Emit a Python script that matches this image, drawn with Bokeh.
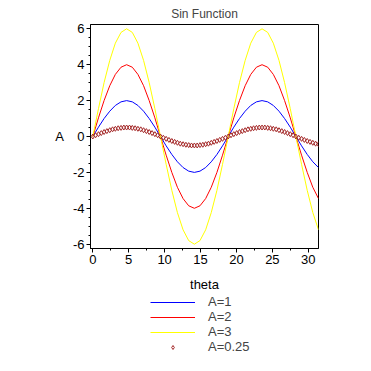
from bokeh.plotting import figure
from bokeh.layouts import column
from bokeh.models import Range1d, Legend, LegendItem, SingleIntervalTicker, CustomJSTickFormatter
from bokeh.embed import file_html
from bokeh.resources import INLINE

# theta samples for the solid curves
theta = [0, 0.79, 1.57, 2.36, 3.14, 3.93, 4.71, 5.5, 6.28, 7.07, 7.85, 8.64, 9.42,
         10.21, 11.0, 11.78, 12.57, 13.35, 14.14, 14.92, 15.71, 16.49, 17.28, 18.06,
         18.85, 19.63, 20.42, 21.21, 21.99, 22.78, 23.56, 24.35, 25.13, 25.92, 26.7,
         27.49, 28.27, 29.06, 29.85, 30.63, 31.42]

y_a1 = [0, 0.52, 1.0, 1.41, 1.73, 1.93, 2.0, 1.93, 1.73, 1.41, 1.0, 0.52, 0,
        -0.52, -1.0, -1.41, -1.73, -1.93, -2.0, -1.93, -1.73, -1.41, -1.0, -0.52, 0,
        0.52, 1.0, 1.41, 1.73, 1.93, 2.0, 1.93, 1.73, 1.41, 1.0, 0.52, 0,
        -0.52, -1.0, -1.41, -1.73]

y_a2 = [0, 1.04, 2.0, 2.83, 3.46, 3.86, 4.0, 3.86, 3.46, 2.83, 2.0, 1.04, 0,
        -1.04, -2.0, -2.83, -3.46, -3.86, -4.0, -3.86, -3.46, -2.83, -2.0, -1.04, 0,
        1.04, 2.0, 2.83, 3.46, 3.86, 4.0, 3.86, 3.46, 2.83, 2.0, 1.04, 0,
        -1.04, -2.0, -2.83, -3.46]

y_a3 = [0, 1.55, 3.0, 4.24, 5.2, 5.8, 6.0, 5.8, 5.2, 4.24, 3.0, 1.55, 0,
        -1.55, -3.0, -4.24, -5.2, -5.8, -6.0, -5.8, -5.2, -4.24, -3.0, -1.55, 0,
        1.55, 3.0, 4.24, 5.2, 5.8, 6.0, 5.8, 5.2, 4.24, 3.0, 1.55, 0,
        -1.55, -3.0, -4.24, -5.2]

# denser theta samples for the marker series
theta_fine = [0, 0.39, 0.79, 1.18, 1.57, 1.96, 2.36, 2.75, 3.14, 3.53, 3.93, 4.32,
              4.71, 5.11, 5.5, 5.89, 6.28, 6.68, 7.07, 7.46, 7.85, 8.25, 8.64, 9.03,
              9.42, 9.82, 10.21, 10.6, 11.0, 11.39, 11.78, 12.17, 12.57, 12.96, 13.35,
              13.74, 14.14, 14.53, 14.92, 15.32, 15.71, 16.1, 16.49, 16.89, 17.28,
              17.67, 18.06, 18.46, 18.85, 19.24, 19.63, 20.03, 20.42, 20.81, 21.21,
              21.6, 21.99, 22.38, 22.78, 23.17, 23.56, 23.95, 24.35, 24.74, 25.13,
              25.53, 25.92, 26.31, 26.7, 27.1, 27.49, 27.88, 28.27, 28.67, 29.06,
              29.45, 29.85, 30.24, 30.63, 31.02, 31.42]

y_a025 = [0, 0.07, 0.13, 0.19, 0.25, 0.3, 0.35, 0.4, 0.43, 0.46, 0.48, 0.5, 0.5,
          0.5, 0.48, 0.46, 0.43, 0.4, 0.35, 0.3, 0.25, 0.19, 0.13, 0.07, 0,
          -0.07, -0.13, -0.19, -0.25, -0.3, -0.35, -0.4, -0.43, -0.46, -0.48, -0.5, -0.5,
          -0.5, -0.48, -0.46, -0.43, -0.4, -0.35, -0.3, -0.25, -0.19, -0.13, -0.07, 0,
          0.07, 0.13, 0.19, 0.25, 0.3, 0.35, 0.4, 0.43, 0.46, 0.48, 0.5, 0.5,
          0.5, 0.48, 0.46, 0.43, 0.4, 0.35, 0.3, 0.25, 0.19, 0.13, 0.07, 0,
          -0.07, -0.13, -0.19, -0.25, -0.3, -0.35, -0.4, -0.43]

labels = ["A=1", "A=2", "A=3", "A=0.25"]
colors = ["#0000FF", "#FF0000", "#FFFF00", "#A52A2A"]

FONT = "Liberation Sans"

p = figure(width=363, height=294,
           x_range=Range1d(-0.32, 31.42), y_range=Range1d(-6.24, 6.24),
           output_backend="svg", toolbar_location=None, title="Sin Function",
           min_border_left=90, min_border_right=45, min_border_top=0,
           min_border_bottom=0)

p.title.align = "center"
p.title.text_font = FONT
p.title.text_font_size = "12px"
p.title.text_font_style = "normal"
p.title.standoff = 8

p.grid.visible = False
p.outline_line_color = "black"
p.outline_line_alpha = 1.0

p.xaxis.ticker = SingleIntervalTicker(interval=5, num_minor_ticks=2)
p.yaxis.ticker = SingleIntervalTicker(interval=2, num_minor_ticks=4)
fmt = CustomJSTickFormatter(code="return tick.toFixed(0);")
for ax in (p.xaxis[0], p.yaxis[0]):
    ax.formatter = fmt
    ax.major_tick_in = 0
    ax.major_tick_out = 4
    ax.minor_tick_in = 0
    ax.minor_tick_out = 2
    ax.axis_line_color = "black"
    ax.major_tick_line_color = "black"
    ax.minor_tick_line_color = "black"
    ax.major_label_text_font = FONT
    ax.major_label_text_font_size = "13px"
    ax.major_label_text_color = "black"
    ax.major_label_standoff = 2
    ax.axis_label_text_font = FONT
    ax.axis_label_text_font_size = "13px"
    ax.axis_label_text_font_style = "normal"
    ax.axis_label_text_color = "black"

p.xaxis.axis_label = "theta"
p.xaxis.axis_label_standoff = 10
p.yaxis.axis_label = "A"
p.yaxis.axis_label_orientation = "horizontal"
p.yaxis.axis_label_standoff = 6

p.line(theta, y_a1, line_color=colors[0], line_width=1)
p.line(theta, y_a2, line_color=colors[1], line_width=1)
p.line(theta, y_a3, line_color=colors[2], line_width=1)
p.scatter(theta_fine, y_a025, marker="diamond", size=5,
          line_color=colors[3], fill_color=None, line_width=1)

# legend panel below the plot (its glyphs lie outside its view)
leg = figure(width=363, height=64, x_range=Range1d(100, 101), y_range=Range1d(100, 101),
             output_backend="svg", toolbar_location=None,
             x_axis_type=None, y_axis_type=None,
             min_border_left=0, min_border_right=0, min_border_top=0, min_border_bottom=0)
leg.grid.visible = False
leg.outline_line_color = None
l1 = leg.line(theta, y_a1, line_color=colors[0], line_width=1)
l2 = leg.line(theta, y_a2, line_color=colors[1], line_width=1)
l3 = leg.line(theta, y_a3, line_color=colors[2], line_width=1)
l4 = leg.scatter(theta_fine, y_a025, marker="diamond", size=5,
                 line_color=colors[3], fill_color=None, line_width=1)

legend = Legend(items=[LegendItem(label=labels[0], renderers=[l1]),
                       LegendItem(label=labels[1], renderers=[l2]),
                       LegendItem(label=labels[2], renderers=[l3]),
                       LegendItem(label=labels[3], renderers=[l4])],
                location=(60, 4), orientation="vertical",
                glyph_width=45, glyph_height=10, label_height=10, spacing=0,
                padding=0, margin=0, label_standoff=13,
                label_text_font=FONT, label_text_font_size="13px",
                border_line_color=None, background_fill_alpha=0)
leg.add_layout(legend, "center")

layout = column(p, leg, spacing=0)

open("out.html", "w").write(file_html(layout, INLINE))
